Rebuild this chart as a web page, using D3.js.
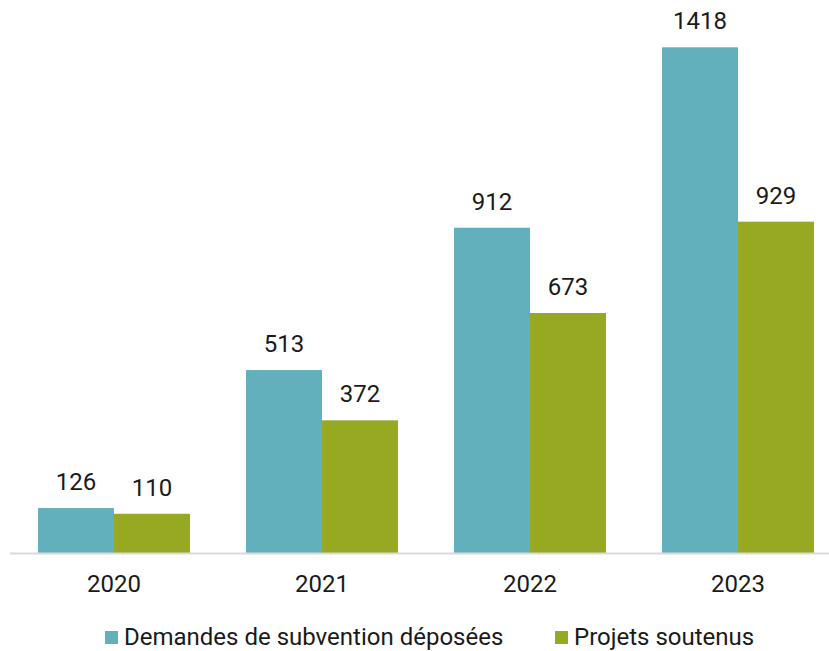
<!DOCTYPE html>
<html>
<head>
<meta charset="utf-8">
<script src="https://cdn.jsdelivr.net/npm/d3@7"></script>
<style>
  body { margin: 0; background: #fff; }
  svg { display: block; font-family: Roboto, "Noto Sans", sans-serif; }
</style>
</head>
<body>
<svg id="chart" width="829" height="651"></svg>
<script>
const categories = ["2020", "2021", "2022", "2023"];
const seriesNames = ["Demandes de subvention déposées", "Projets soutenus"];
const demandes = [126, 513, 912, 1418];
const projets = [110, 372, 673, 929];
const colors = ["#62B0BB", "#97A823"];

const svg = d3.select("#chart");
const baseline = 553;
const FS = 24;

const x0 = d3.scaleBand().domain(categories).range([10, 842])
  .paddingInner(0.2692).paddingOuter(0.1346);
const x1 = d3.scaleBand().domain(seriesNames).range([0, x0.bandwidth()]);
const y = d3.scaleLinear().domain([0, 1418]).range([baseline, 47.3]);

const data = categories.map((c, i) => ({cat: c, values: [demandes[i], projets[i]]}));

const groups = svg.selectAll("g.grp").data(data).join("g")
  .attr("class", "grp")
  .attr("transform", d => `translate(${x0(d.cat)},0)`);

groups.selectAll("rect").data(d => d.values.map((v, j) => ({v, j}))).join("rect")
  .attr("x", d => x1(seriesNames[d.j]))
  .attr("width", x1.bandwidth())
  .attr("y", d => y(d.v))
  .attr("height", d => baseline - y(d.v))
  .attr("fill", d => colors[d.j]);

groups.selectAll("text.val").data(d => d.values.map((v, j) => ({v, j}))).join("text")
  .attr("class", "val")
  .attr("x", d => x1(seriesNames[d.j]) + x1.bandwidth() / 2)
  .attr("y", d => y(d.v) - 18)
  .attr("text-anchor", "middle")
  .attr("font-size", FS)
  .attr("fill", "#1a1a1a")
  .text(d => d.v);

svg.append("line")
  .attr("x1", 10).attr("x2", 829)
  .attr("y1", baseline + 0.5).attr("y2", baseline + 0.5)
  .attr("stroke", "#d9d9d9").attr("stroke-width", 2);

const xAxis = d3.axisBottom(x0).tickSize(0).tickPadding(0);
const ax = svg.append("g").attr("transform", `translate(0,${baseline})`).call(xAxis);
ax.select(".domain").remove();
ax.selectAll("text")
  .attr("font-size", FS)
  .attr("font-family", "Roboto, sans-serif")
  .attr("fill", "#1a1a1a")
  .attr("dy", null)
  .attr("y", 39);

const legendX = [105, 555];
const lg = svg.selectAll("g.leg").data(seriesNames).join("g")
  .attr("class", "leg")
  .attr("transform", (d, i) => `translate(${legendX[i]},0)`);
lg.append("rect").attr("x", 0).attr("y", 631).attr("width", 13).attr("height", 13)
  .attr("fill", (d, i) => colors[i]);
lg.append("text").attr("x", 19).attr("y", 645)
  .attr("font-size", FS).attr("fill", "#1a1a1a")
  .text(d => d);
</script>
</body>
</html>
